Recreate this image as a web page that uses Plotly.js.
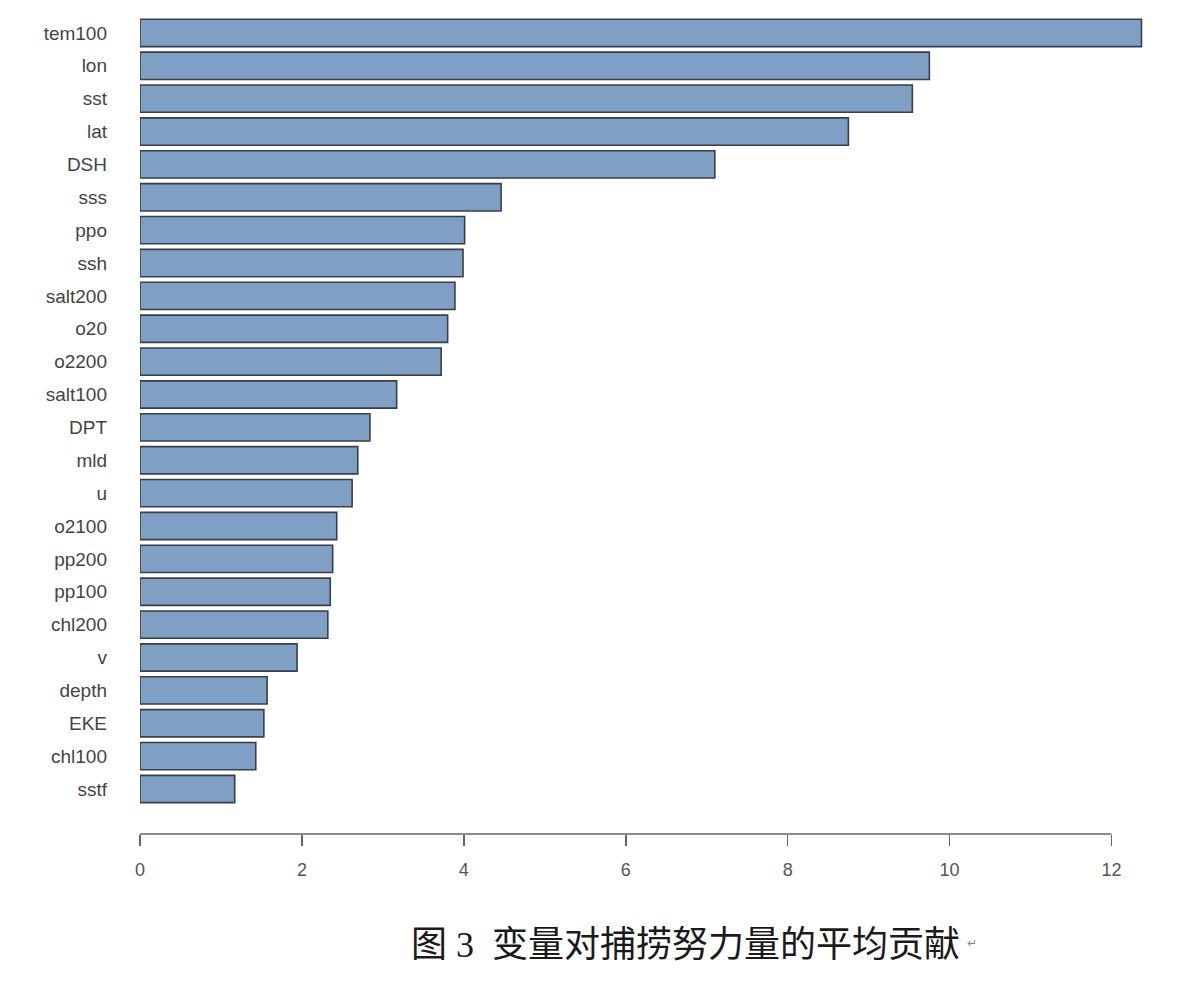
<!DOCTYPE html>
<html>
<head>
<meta charset="utf-8">
<script src="https://cdn.plot.ly/plotly-3.0.1.min.js"></script>
<style>
  html, body { margin: 0; padding: 0; background: #ffffff; }
  #chart { width: 1200px; height: 986px; }
</style>
</head>
<body>
<div id="chart"></div>
<script>
// Variables, listed from smallest to largest contribution (bottom to top)
const variables = ["sstf", "chl100", "EKE", "depth", "v", "chl200", "pp100", "pp200",
  "o2100", "u", "mld", "DPT", "salt100", "o2200", "o20", "salt200", "ssh", "ppo",
  "sss", "DSH", "lat", "sst", "lon", "tem100"];
const contribution = [1.17, 1.43, 1.53, 1.57, 1.94, 2.32, 2.35, 2.38,
  2.43, 2.62, 2.69, 2.84, 3.17, 3.72, 3.80, 3.89, 3.99, 4.01,
  4.46, 7.10, 8.75, 9.54, 9.75, 12.37];
const xTicks = [0, 2, 4, 6, 8, 10, 12];
const caption = "图 3  变量对捕捞努力量的平均贡献";

const trace = {
  type: "bar",
  orientation: "h",
  y: variables,
  x: contribution,
  marker: {
    color: "#7f9fc5",
    line: { color: "#3a3f47", width: 1.6 }
  },
  hoverinfo: "x+y"
};

const layout = {
  width: 1200,
  height: 986,
  margin: { l: 140, r: 48, t: 5, b: 152 },
  paper_bgcolor: "#ffffff",
  plot_bgcolor: "#ffffff",
  bargap: 0.17,
  showlegend: false,
  xaxis: {
    range: [0, 12.5],
    tickvals: xTicks,
    ticktext: xTicks.map(String),
    ticks: "outside",
    ticklen: 11,
    tickwidth: 1.5,
    tickcolor: "#666666",
    ticklabelstandoff: 8,
    showline: false,
    showgrid: false,
    zeroline: false,
    tickfont: { family: "Liberation Sans, Arial, sans-serif", size: 18, color: "#555555" }
  },
  yaxis: {
    type: "category",
    categoryorder: "array",
    categoryarray: variables,
    range: [-1.37, 23.85],
    showline: false,
    showgrid: false,
    zeroline: false,
    ticks: "",
    ticklabelstandoff: 32,
    tickfont: { family: "Liberation Sans, Arial, sans-serif", size: 19, color: "#444444" }
  },
  shapes: [
    {
      // axis line spans only the tick range, as in base-R plots
      type: "line",
      xref: "x", yref: "paper",
      x0: xTicks[0], x1: xTicks[xTicks.length - 1],
      y0: 0, y1: 0,
      line: { color: "#666666", width: 1.5 }
    }
  ],
  annotations: [
    {
      text: caption,
      xref: "paper", yref: "paper",
      x: 0, xanchor: "center",
      y: 0, yanchor: "middle",
      showarrow: false,
      font: { family: "Liberation Serif, Noto Sans CJK SC, serif", size: 36, color: "#1a1a1a" }
    },
    {
      text: "↵",
      xref: "paper", yref: "paper",
      x: 0, y: 0,
      showarrow: false,
      font: { family: "DejaVu Sans, sans-serif", size: 12, color: "#888888" }
    }
  ]
};

// Place the caption below the chart in pixel terms
const plotW = 1200 - layout.margin.l - layout.margin.r;
const plotH = 986 - layout.margin.t - layout.margin.b;
const px = (x) => (x - layout.margin.l) / plotW;
const py = (y) => (986 - layout.margin.b - y) / plotH;
layout.annotations[0].x = px(685);
layout.annotations[0].y = py(945);
layout.annotations[1].x = px(979);
layout.annotations[1].y = py(952);

Plotly.newPlot("chart", [trace], layout, { displayModeBar: false, staticPlot: true });
</script>
</body>
</html>
